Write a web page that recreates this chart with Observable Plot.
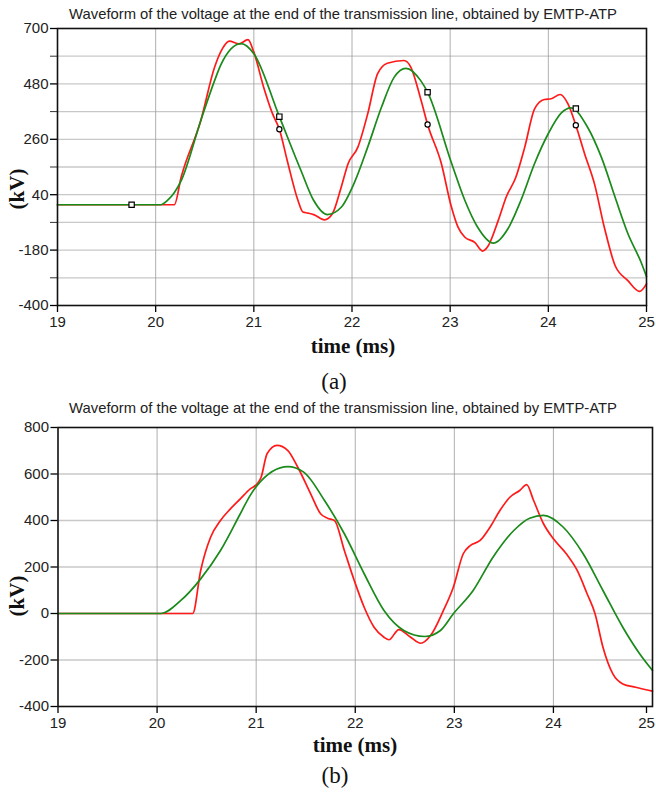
<!DOCTYPE html>
<html><head><meta charset="utf-8">
<script src="https://cdn.jsdelivr.net/npm/d3@7"></script>
<script src="https://cdn.jsdelivr.net/npm/@observablehq/plot@0.6"></script>
<style>
body{margin:0;background:#fff;}
#wrap{position:relative;width:656px;height:792px;overflow:hidden;background:#fff;}
.title{position:absolute;font-family:"Liberation Sans",Arial,sans-serif;font-size:14.8px;color:#222;white-space:nowrap;transform:translate(-50%,-50%);}
.xl{position:absolute;font-family:"Liberation Serif","Times New Roman",serif;font-weight:bold;font-size:21px;color:#111;white-space:nowrap;transform:translate(-50%,-50%);}
.yl{position:absolute;font-family:"Liberation Serif","Times New Roman",serif;font-weight:bold;font-size:21px;color:#111;white-space:nowrap;transform:translate(-50%,-50%) rotate(-90deg);}
.cap{position:absolute;font-family:"Liberation Serif","Times New Roman",serif;font-size:23px;color:#111;transform:translate(-50%,-50%);}
.plot{position:absolute;left:0;}
</style></head>
<body><div id="wrap">
<div class="title" style="left:343px;top:14px;">Waveform of the voltage at the end of the transmission line, obtained by EMTP-ATP</div>
<div class="plot" id="pa" style="top:20px;"></div>
<div class="xl" style="left:353px;top:346px;">time (ms)</div>
<div class="yl" style="left:17px;top:189px;">(kV)</div>
<div class="cap" style="left:334px;top:382px;">(a)</div>
<div class="title" style="left:343px;top:408px;">Waveform of the voltage at the end of the transmission line, obtained by EMTP-ATP</div>
<div class="plot" id="pb" style="top:420px;"></div>
<div class="xl" style="left:355px;top:745px;">time (ms)</div>
<div class="yl" style="left:17px;top:596px;">(kV)</div>
<div class="cap" style="left:335px;top:776px;">(b)</div>
</div>
<script>
// ---- Chart (a) ----
const aGreenT = [19.0,20.05,20.12,20.26,20.46,20.6,20.66,20.87,21.0,21.26,21.48,21.61,21.75,21.89,22.02,22.16,22.3,22.43,22.55,22.7,22.77,23.01,23.15,23.28,23.44,23.59,23.72,23.86,24.0,24.13,24.23,24.4,24.54,24.68,24.81,24.95,25.0];
const aGreenV = [0,0,17,96,335,493,553,640,600,350,136,17,-39,-10,84,229,387,507,542,493,447,170,17,-89,-152,-94,17,164,283,364,385,308,189,30,-114,-233,-285];
const aRedT = [19.0,20.19,20.26,20.46,20.6,20.68,20.75,20.85,20.94,21.0,21.1,21.19,21.26,21.34,21.45,21.5,21.55,21.61,21.72,21.8,21.89,21.96,22.06,22.16,22.26,22.36,22.53,22.6,22.7,22.77,22.91,23.01,23.08,23.15,23.25,23.33,23.38,23.49,23.57,23.67,23.76,23.86,23.96,24.03,24.12,24.2,24.28,24.37,24.47,24.57,24.68,24.81,24.93,25.0];
const aRedV = [0,0,110,335,546,620,650,639,656,606,467,362,300,176,17,-29,-33,-39,-60,-36,70,163,229,361,520,562,573,546,420,319,164,-5,-89,-129,-149,-184,-168,-62,30,110,229,381,418,421,438,401,316,202,83,-89,-241,-301,-344,-314];
const aSquareT = [19.755,21.26,22.77,24.28];
const aSquareV = [0,350,447,382];
const aCircleT = [21.26,22.77,24.28];
const aCircleV = [300,319,316];
const aYTicks = [700,480,260,40,-180,-400];
const aYMinor = [590,370,150,-70,-290];
const aYGrid = [590,480,370,260,150,40,-70,-180,-290];
const xTicks = [19,20,21,22,23,24,25];

// ---- Chart (b) ----
const bGreenT = [19.0,20.04,20.24,20.44,20.64,20.84,20.94,21.01,21.32,21.48,21.69,21.89,22.09,22.29,22.49,22.70,22.86,22.99,23.19,23.39,23.6,23.76,23.9,24.1,24.3,24.5,24.7,24.87,25.0];
const bGreenV = [0,0,56,149,271,429,508,551,632,608,486,343,171,13,-73,-99,-73,-1,99,242,357,410,422,371,257,99,-59,-173,-245];
const bRedT = [19.0,20.36,20.44,20.54,20.64,20.74,20.84,20.94,21.01,21.05,21.11,21.21,21.32,21.42,21.55,21.65,21.72,21.79,21.89,21.99,22.09,22.19,22.29,22.34,22.44,22.56,22.66,22.76,22.89,22.99,23.09,23.16,23.26,23.36,23.46,23.56,23.66,23.73,23.8,23.9,24.0,24.13,24.24,24.34,24.42,24.5,24.6,24.7,24.83,25.0];
const bRedV = [0,0,185,328,400,450,493,536,558,586,687,723,701,629,515,429,410,400,271,142,27,-59,-102,-113,-69,-102,-128,-95,13,113,257,292,314,371,443,500,529,554,486,386,321,257,185,85,-1,-145,-260,-303,-317,-334];
const bYTicks = [800,600,400,200,0,-200,-400];
const bYGrid = [600,400,200,0,-200];

const zip = (ts, vs) => ts.map((t, i) => ({t, v: vs[i]}));
const FONT = '"Liberation Sans", Arial, sans-serif';

function chart({green, red, squares, circles, yDomain, yTicks, yMinor, yGrid, lastDx, height, mt, mb, ml, mr}) {
  const axisStyle = {fontSize: 15, fill: "#222", stroke: "#000", strokeWidth: 1.3};
  const marks = [
    Plot.ruleY(yGrid, {stroke: "#c8c8c8", strokeWidth: 1.3}),
    Plot.ruleX(xTicks.slice(1, -1), {stroke: "#9a9a9a", strokeWidth: 0.8}),
    Plot.line(red, {x: "t", y: "v", stroke: "#ff1a1a", strokeWidth: 1.7, curve: "monotone-x"}),
    Plot.line(green, {x: "t", y: "v", stroke: "#1a8a1a", strokeWidth: 1.7, curve: "monotone-x"}),
    Plot.axisY({ticks: yTicks, tickSize: 7, tickPadding: 2, tickFormat: d => String(d), ...axisStyle}),
    Plot.axisX({ticks: xTicks.slice(0, -1), tickSize: 7, tickPadding: 4, tickFormat: d => String(d), ...axisStyle}),
    Plot.axisX({ticks: xTicks.slice(-1), tickSize: 7, tickPadding: 4, tickFormat: d => String(d), dx: lastDx, ...axisStyle}),
    Plot.frame({stroke: "#111", strokeWidth: 1.6})
  ];
  if (yMinor) marks.splice(4, 0, Plot.axisY({ticks: yMinor, tickSize: 7, text: null, stroke: "#333", strokeWidth: 1}));
  if (squares) marks.push(Plot.dot(squares, {x: "t", y: "v", symbol: "square", r: 3, stroke: "#000", fill: "#fff", strokeWidth: 1.2}));
  if (circles) marks.push(Plot.dot(circles, {x: "t", y: "v", symbol: "circle", r: 2.6, stroke: "#000", fill: "#fff", strokeWidth: 1.2}));
  return Plot.plot({
    width: 656, height,
    marginTop: mt, marginBottom: mb, marginLeft: ml, marginRight: mr,
    style: {fontFamily: FONT, background: "transparent", overflow: "visible"},
    x: {domain: [19, 25], label: null},
    y: {domain: yDomain, label: null},
    marks
  });
}

document.getElementById("pa").append(chart({
  green: zip(aGreenT, aGreenV), red: zip(aRedT, aRedV),
  squares: zip(aSquareT, aSquareV), circles: zip(aCircleT, aCircleV),
  yDomain: [-400, 700], yTicks: aYTicks, yMinor: aYMinor, yGrid: aYGrid, lastDx: 0,
  height: 320, mt: 8, mb: 35, ml: 57, mr: 10
}));

document.getElementById("pb").append(chart({
  green: zip(bGreenT, bGreenV), red: zip(bRedT, bRedV),
  yDomain: [-400, 800], yTicks: bYTicks, yMinor: null, yGrid: bYGrid, lastDx: -6,
  height: 320, mt: 7, mb: 34, ml: 57.5, mr: 4
}));
</script>
</body></html>
